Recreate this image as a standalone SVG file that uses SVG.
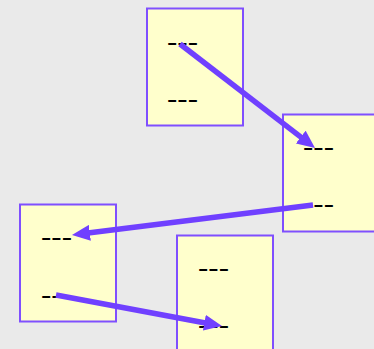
<svg xmlns="http://www.w3.org/2000/svg" width="374" height="349" viewBox="0 0 374 349">
<style>
.node rect{fill:#ffffcc;stroke:#7f4fff;stroke-width:2}
.node text{font-family:"Liberation Sans",Arial,sans-serif;font-size:17px;fill:#000;font-weight:bold}
.edge{stroke:#7040ff;stroke-width:5.5;fill:none;marker-end:url(#ah)}
</style>
<defs>
<marker id="ah" markerWidth="18" markerHeight="16" refX="8" refY="8" orient="auto" markerUnits="userSpaceOnUse" viewBox="0 0 18 16">
<path d="M0,0 L18,8 L0,16 Z" fill="#7040ff"/>
</marker>
</defs>
<rect width="374" height="349" fill="#eaeaea"/>
<g id="n1" class="node"><rect x="147" y="8.5" width="96" height="117"/><text x="167" y="47.8" textLength="31" lengthAdjust="spacingAndGlyphs">---</text><text x="167" y="105.3" textLength="31" lengthAdjust="spacingAndGlyphs">---</text></g>
<g id="n2" class="node"><rect x="283" y="114.5" width="96" height="117"/><text x="303" y="153.3" textLength="31" lengthAdjust="spacingAndGlyphs">---</text><text x="303" y="210.3" textLength="31" lengthAdjust="spacingAndGlyphs">---</text></g>
<g id="n3" class="node"><rect x="20" y="204.5" width="96" height="117"/><text x="41" y="242.8" textLength="31" lengthAdjust="spacingAndGlyphs">---</text><text x="41" y="300.8" textLength="31" lengthAdjust="spacingAndGlyphs">---</text></g>
<g id="n4" class="node"><rect x="177" y="235.5" width="96" height="117"/><text x="198" y="274.3" textLength="31" lengthAdjust="spacingAndGlyphs">---</text><text x="198" y="330.8" textLength="31" lengthAdjust="spacingAndGlyphs">---</text></g>
<g id="edges">
<line class="edge" x1="180" y1="44" x2="307.1" y2="141.9"/>
<line class="edge" x1="313" y1="205" x2="81.9" y2="233.8"/>
<line class="edge" x1="56" y1="295" x2="212.2" y2="324.2"/>
</g>
</svg>
